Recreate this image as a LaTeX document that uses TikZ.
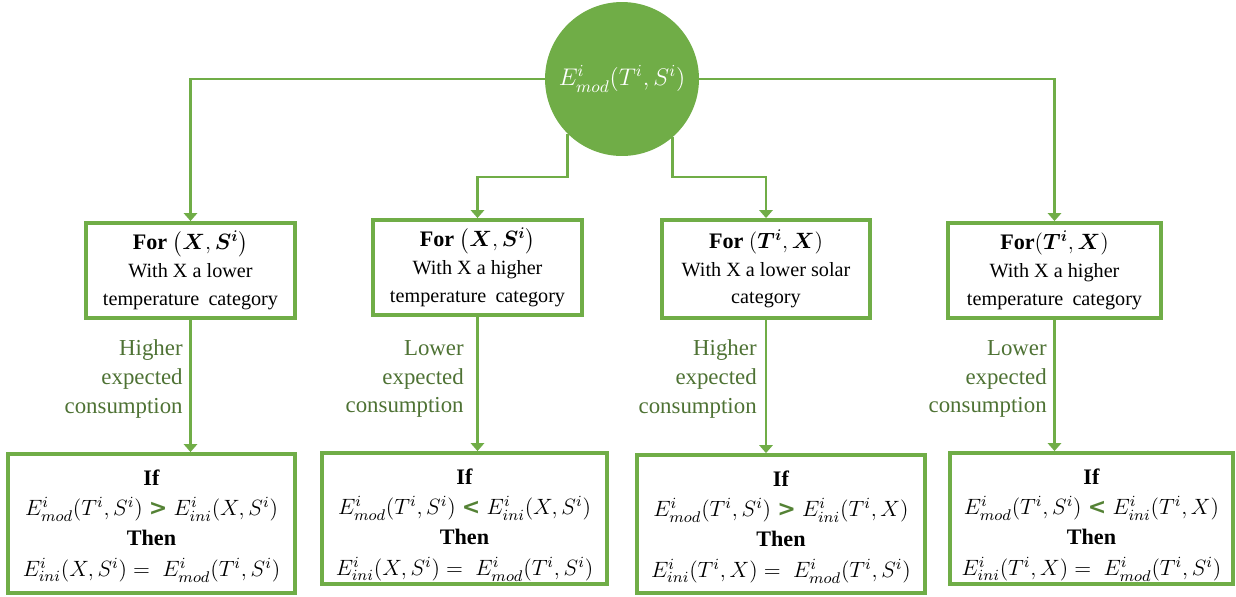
\RequirePackage{fix-cm}
\documentclass[tikz,border=0pt]{standalone}
\usepackage{amsmath,bm}
\usepackage{fontspec}
\setmainfont{Liberation Serif}
\newfontfamily\serifLS{Liberation Serif}
\newfontfamily\signfont{DejaVu Sans}
\usetikzlibrary{arrows.meta,calc}
\definecolor{gline}{HTML}{70AD47}
\definecolor{gtext}{HTML}{4E7234}
\definecolor{gsign}{HTML}{548235}
\newcommand{\gsgn}[1]{\mathrel{\text{\textcolor{gsign}{\signfont\bfseries #1}}}}
\begin{document}
\begin{tikzpicture}[x=0.02cm,y=-0.02cm,
  box/.style={draw=gline,line width=2.2pt,fill=white,inner sep=0pt},
  conn/.style={draw=gline,line width=1.6pt},
  arr/.style={conn,-{Triangle[width=7.5pt,length=4.5pt]}},
  toptxt/.style={align=center,inner sep=0pt,font=\serifLS\fontsize{11.5}{15.8}\selectfont},
  bottxt/.style={align=center,inner sep=0pt,font=\serifLS\fontsize{12.6}{17.2}\selectfont},
  lbl/.style={text=gtext,align=right,anchor=east,inner sep=0pt,font=\serifLS\fontsize{13}{16.4}\selectfont}]
\useasboundingbox (0,0) rectangle (1236,596);

% central circle
\node[circle,fill=gline,minimum size=3.08cm,inner sep=0pt,text=white,
  font=\fontsize{13.7}{16}\selectfont] (c) at (622,79) {$E^{i}_{mod}(T^{i},S^{i})$};

% top boxes
\node[box,minimum width=4.18cm,minimum height=1.9cm] (b1) at (190.5,270.5) {};
\node[box,minimum width=4.18cm,minimum height=1.9cm] (b2) at (477.5,267.5) {};
\node[box,minimum width=4.16cm,minimum height=1.96cm] (b3) at (766,269) {};
\node[box,minimum width=4.26cm,minimum height=1.9cm] (b4) at (1054.5,270.5) {};

\node[toptxt] (t1) at (b1) {{\fontsize{12.6}{15}\selectfont\bfseries For $\bigl(\boldsymbol{X},\boldsymbol{S^{i}}\bigr)$}\\With X a lower\\temperature\hspace{0.2em} category};
\node[toptxt] (t2) at (b2) {{\fontsize{12.6}{15}\selectfont\bfseries For $\bigl(\boldsymbol{X},\boldsymbol{S^{i}}\bigr)$}\\With X a higher\\temperature\hspace{0.2em} category};
\node[toptxt] (t3) at (b3) {{\fontsize{12.6}{15}\selectfont\bfseries For $(\boldsymbol{T^{i}},\boldsymbol{X})$}\\With X a lower solar\\category};
\node[toptxt] (t4) at (b4) {{\fontsize{12.6}{15}\selectfont\bfseries For$(\boldsymbol{T^{i}},\boldsymbol{X})$}\\With X a higher\\temperature\hspace{0.2em} category};

% bottom boxes
\node[box,minimum width=5.74cm,minimum height=2.78cm] (b5) at (151.5,523.5) {};
\node[box,minimum width=5.70cm,minimum height=2.62cm] (b6) at (464.5,518.5) {};
\node[box,minimum width=5.76cm,minimum height=2.76cm] (b7) at (781,524) {};
\node[box,minimum width=5.66cm,minimum height=2.62cm] (b8) at (1091.5,518.5) {};

\node[bottxt] (t5) at (151.5,526) {\textbf{If}\\$E^{i}_{mod}(T^{i},S^{i})\gsgn{>}E^{i}_{ini}(X,S^{i})$\\\textbf{Then}\\$E^{i}_{ini}(X,S^{i})=\;E^{i}_{mod}(T^{i},S^{i})$};
\node[bottxt] (t6) at (464.5,525) {\textbf{If}\\$E^{i}_{mod}(T^{i},S^{i})\gsgn{<}E^{i}_{ini}(X,S^{i})$\\\textbf{Then}\\$E^{i}_{ini}(X,S^{i})=\;E^{i}_{mod}(T^{i},S^{i})$};
\node[bottxt] (t7) at (781,527) {\textbf{If}\\$E^{i}_{mod}(T^{i},S^{i})\gsgn{>}E^{i}_{ini}(T^{i},X)$\\\textbf{Then}\\$E^{i}_{ini}(T^{i},X)=\;E^{i}_{mod}(T^{i},S^{i})$};
\node[bottxt] (t8) at (1091.5,525) {\textbf{If}\\$E^{i}_{mod}(T^{i},S^{i})\gsgn{<}E^{i}_{ini}(T^{i},X)$\\\textbf{Then}\\$E^{i}_{ini}(T^{i},X)=\;E^{i}_{mod}(T^{i},S^{i})$};

% connectors from circle
\coordinate (k2) at (477.5,177);
\coordinate (k3) at (766,177);
\draw[arr] (c.west) -| (b1.north);
\draw[arr] (c.east) -| (b4.north);
\draw[arr] (c.225.5) |- (k2) -- (b2.north);
\draw[arr] (c.311.5) |- (k3) -- (b3.north);

% connectors top -> bottom
\draw[arr] (b1.south) -- (b1.south |- b5.north);
\draw[arr] (b2.south) -- (b2.south |- b6.north);
\draw[arr] (b3.south) -- (b3.south |- b7.north);
\draw[arr] (b4.south) -- (b4.south |- b8.north);

% labels
\node[lbl] (l1) at (183,379) {Higher\\expected\\consumption};
\node[lbl] (l2) at (464,379) {Lower\\expected\\consumption};
\node[lbl] (l3) at (757,379) {Higher\\expected\\consumption};
\node[lbl] (l4) at (1047,379) {Lower\\expected\\consumption};
\end{tikzpicture}
\end{document}
